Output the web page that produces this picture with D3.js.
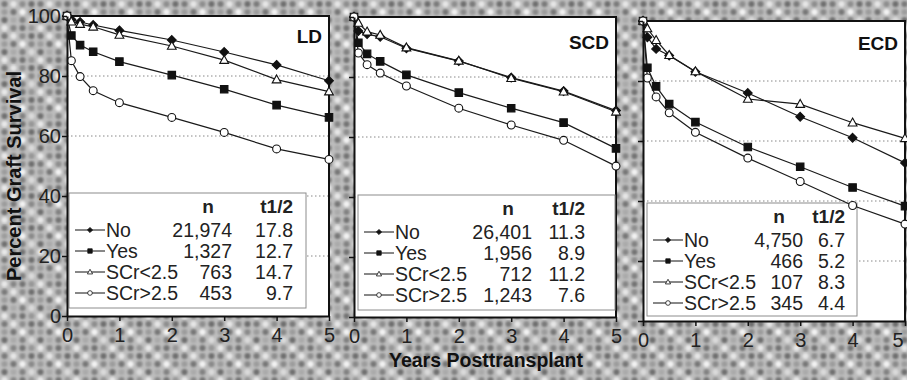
<!DOCTYPE html>
<html>
<head>
<meta charset="utf-8">
<script src="https://cdn.jsdelivr.net/npm/d3@7"></script>
<style>
  body { margin: 0; background: #fff; }
  svg { display: block; font-family: "Liberation Sans", Arial, sans-serif; }
</style>
</head>
<body>
<svg id="chart" width="907" height="380"></svg>
<script>
// data
const years = [0, 1 / 12, 0.25, 0.5, 1, 2, 3, 4, 5];
const groups = ["No", "Yes", "SCr<2.5", "SCr>2.5"];
const panelNames = ["LD", "SCD", "ECD"];
const xTicks = [0, 1, 2, 3, 4, 5];
const yTicks = [0, 20, 40, 60, 80, 100];
const gridVals = [20, 40, 60, 80];

const ldNo = [100, 98.8, 98.0, 97.0, 95.2, 92.0, 88.0, 83.7, 78.4];
const ldYes = [100, 93.5, 90.3, 88.1, 84.8, 80.3, 75.6, 70.3, 66.2];
const ldLow = [100, 98.1, 97.3, 96.4, 93.7, 90.0, 85.3, 78.8, 74.8];
const ldHigh = [100, 85.1, 79.8, 75.1, 71.1, 66.2, 61.2, 55.7, 52.2];

const scdNo = [100, 95.3, 94.3, 93.4, 89.6, 85.3, 79.8, 75.3, 68.8];
const scdYes = [100, 91.4, 87.7, 85.2, 80.7, 74.8, 69.6, 64.8, 56.2];
const scdLow = [100, 98.0, 95.1, 94.0, 89.8, 85.4, 79.6, 75.1, 68.4];
const scdHigh = [100, 88.0, 84.1, 81.3, 77.0, 69.6, 64.0, 58.9, 50.3];

const ecdNo = [100, 94.6, 90.7, 88.5, 83.1, 76.0, 68.1, 61.1, 52.7];
const ecdYes = [100, 84.4, 78.2, 72.3, 66.3, 58.0, 51.4, 44.5, 38.3];
const ecdLow = [100, 97.5, 93.6, 88.6, 83.2, 74.0, 72.3, 66.1, 60.9];
const ecdHigh = [100, 81.0, 74.7, 69.4, 62.9, 54.3, 46.5, 38.5, 32.3];

const ldN = ["21,974", "1,327", "763", "453"];
const ldHalf = ["17.8", "12.7", "14.7", "9.7"];
const scdN = ["26,401", "1,956", "712", "1,243"];
const scdHalf = ["11.3", "8.9", "11.2", "7.6"];
const ecdN = ["4,750", "466", "107", "345"];
const ecdHalf = ["6.7", "5.2", "8.3", "4.4"];

const panelSeries = [
  [ldNo, ldYes, ldLow, ldHigh],
  [scdNo, scdYes, scdLow, scdHigh],
  [ecdNo, ecdYes, ecdLow, ecdHigh]
];
const panelN = [ldN, scdN, ecdN];
const panelHalf = [ldHalf, scdHalf, ecdHalf];

// layout (the scan is a little skewed, so each panel has its own offsets)
const panelLeft = [67, 354, 643];
const panelTop = [16, 17, 21];
const panelW = 262, panelH = 300;
const titleY = [43, 49, 50];
const legendBox = [[69, 193, 237, 115], [358, 195, 257, 115], [647, 203, 210, 113]];
const legendNRight = [163, 174, 156];
const legendTRight = [224, 227, 198];

const ink = "#111";
const svg = d3.select("#chart");

// halftone background
const defs = svg.append("defs");
defs.append("filter").attr("id", "soft")
  .append("feGaussianBlur").attr("stdDeviation", 0.9);
const pat = defs.append("pattern")
  .attr("id", "halftone")
  .attr("patternUnits", "userSpaceOnUse")
  .attr("width", 36).attr("height", 32);
pat.append("rect").attr("width", 36).attr("height", 32).attr("fill", "#bdbdbd");
const dotShade = [
  ["#7a7a7a", "#e6e6e6", "#8e8e8e", "#6e6e6e"],
  ["#9c9c9c", "#777", "#f2f2f2", "#8a8a8a"],
  ["#707070", "#aaaaaa", "#828282", "#dadada"],
  ["#e8e8e8", "#868686", "#737373", "#979797"]
];
const dots = pat.append("g").attr("filter", "url(#soft)");
dotShade.forEach((row, r) => row.forEach((c, k) => {
  dots.append("circle")
    .attr("cx", 4.5 + k * 9).attr("cy", 4 + r * 8)
    .attr("r", 3.1).attr("fill", c);
}));
svg.append("rect").attr("width", 907).attr("height", 380).attr("fill", "url(#halftone)");

function markerPath(kind, s) {
  if (kind === 0) return `M0,${-s}L${s},0L0,${s}L${-s},0Z`;
  if (kind === 1) return `M${-s * 0.85},${-s * 0.85}h${s * 1.7}v${s * 1.7}h${-s * 1.7}Z`;
  if (kind === 2) return `M0,${-s * 1.05}L${s},${s * 0.75}L${-s},${s * 0.75}Z`;
  return d3.symbol(d3.symbolCircle, Math.PI * s * s * 0.8)();
}
const markerFill = ["#111", "#111", "#fff", "#fff"];

panelNames.forEach((name, i) => {
  const left = panelLeft[i], top = panelTop[i];
  const x = d3.scaleLinear().domain([0, 5]).range([left, left + panelW]);
  const y = d3.scaleLinear().domain([0, 100]).range([top + panelH, top]);
  const g = svg.append("g");

  g.append("rect")
    .attr("x", left).attr("y", top)
    .attr("width", panelW).attr("height", panelH)
    .attr("fill", "#fff");

  g.selectAll(".grid").data(gridVals).join("line")
    .attr("x1", left).attr("x2", left + panelW)
    .attr("y1", d => y(d)).attr("y2", d => y(d))
    .attr("stroke", "#888").attr("stroke-width", 1)
    .attr("stroke-dasharray", "1.5,2.5");

  // frame: top and right
  g.append("path")
    .attr("d", `M${left},${top}H${left + panelW}V${top + panelH}`)
    .attr("fill", "none").attr("stroke", ink).attr("stroke-width", 2);

  // legend box
  const [bx, by, bw, bh] = legendBox[i];
  const lg = g.append("g");
  lg.append("rect")
    .attr("x", bx).attr("y", by).attr("width", bw).attr("height", bh)
    .attr("fill", "#fff").attr("stroke", "#8c8c8c").attr("stroke-width", 1);
  lg.append("text")
    .attr("x", bx + legendNRight[i] - 24).attr("y", by + 20)
    .attr("text-anchor", "middle").attr("font-weight", "bold")
    .attr("font-size", 19).attr("fill", "#222").text("n");
  lg.append("text")
    .attr("x", bx + legendTRight[i]).attr("y", by + 20)
    .attr("text-anchor", "end").attr("font-weight", "bold")
    .attr("font-size", 19).attr("fill", "#222").text("t1/2");
  groups.forEach((grp, k) => {
    const ry = by + 44 + k * 21;
    lg.append("line")
      .attr("x1", bx + 6).attr("x2", bx + 36)
      .attr("y1", ry - 7).attr("y2", ry - 7)
      .attr("stroke", ink).attr("stroke-width", 1);
    lg.append("path")
      .attr("d", markerPath(k, 2.6))
      .attr("transform", `translate(${bx + 21},${ry - 7})`)
      .attr("fill", markerFill[k]).attr("stroke", ink).attr("stroke-width", 0.8);
    lg.append("text")
      .attr("x", bx + 37).attr("y", ry)
      .attr("font-size", 19.5).attr("fill", "#222").text(grp);
    lg.append("text")
      .attr("x", bx + legendNRight[i]).attr("y", ry)
      .attr("text-anchor", "end")
      .attr("font-size", 19.5).attr("fill", "#222").text(panelN[i][k]);
    lg.append("text")
      .attr("x", bx + legendTRight[i]).attr("y", ry)
      .attr("text-anchor", "end")
      .attr("font-size", 19.5).attr("fill", "#222").text(panelHalf[i][k]);
  });

  // survival curves
  const line = d3.line().x((d, j) => x(years[j])).y(d => y(d));
  panelSeries[i].forEach((vals, k) => {
    g.append("path")
      .attr("d", line(vals))
      .attr("fill", "none").attr("stroke", "#1a1a1a").attr("stroke-width", 1.2);
  });
  panelSeries[i].forEach((vals, k) => {
    g.selectAll(null).data(vals).join("path")
      .attr("d", markerPath(k, 4.4))
      .attr("transform", (d, j) => `translate(${x(years[j])},${y(d)})`)
      .attr("fill", markerFill[k]).attr("stroke", ink).attr("stroke-width", 1.1);
  });

  // axes
  const yAxis = d3.axisLeft(y).tickValues(yTicks).tickSize(5).tickSizeOuter(0).tickPadding(1)
    .tickFormat(i === 0 ? d3.format("d") : () => "");
  const ya = g.append("g").attr("transform", `translate(${left},0)`).call(yAxis);
  const xAxis = d3.axisBottom(x).tickValues(xTicks).tickSize(5).tickSizeOuter(0).tickPadding(7)
    .tickFormat(d3.format("d"));
  const xa = g.append("g").attr("transform", `translate(0,${top + panelH})`).call(xAxis);
  [ya, xa].forEach(a => {
    a.select(".domain").attr("stroke", ink).attr("stroke-width", 2);
    a.selectAll(".tick line").attr("stroke", ink).attr("stroke-width", 1.5);
    a.selectAll("text").attr("font-size", 20).attr("fill", "#222")
      .attr("font-family", "'Liberation Sans', Arial, sans-serif");
  });
  // the last label of the right panel sits against the page edge
  if (i === panelNames.length - 1) {
    xa.selectAll(".tick text").filter(d => d === 5)
      .attr("text-anchor", "end").attr("dx", -2);
  }

  g.append("text")
    .attr("x", left + panelW - 7).attr("y", titleY[i])
    .attr("text-anchor", "end").attr("font-weight", "bold")
    .attr("font-size", 19).attr("fill", "#111").text(name);
});

svg.append("text")
  .attr("transform", "translate(21,176) rotate(-90)")
  .attr("text-anchor", "middle").attr("font-weight", "bold")
  .attr("font-size", 20).attr("fill", "#111").text("Percent Graft Survival");

svg.append("text")
  .attr("x", 486).attr("y", 367)
  .attr("text-anchor", "middle").attr("font-weight", "bold")
  .attr("font-size", 19.5).attr("fill", "#111").text("Years Posttransplant");
</script>
</body>
</html>
